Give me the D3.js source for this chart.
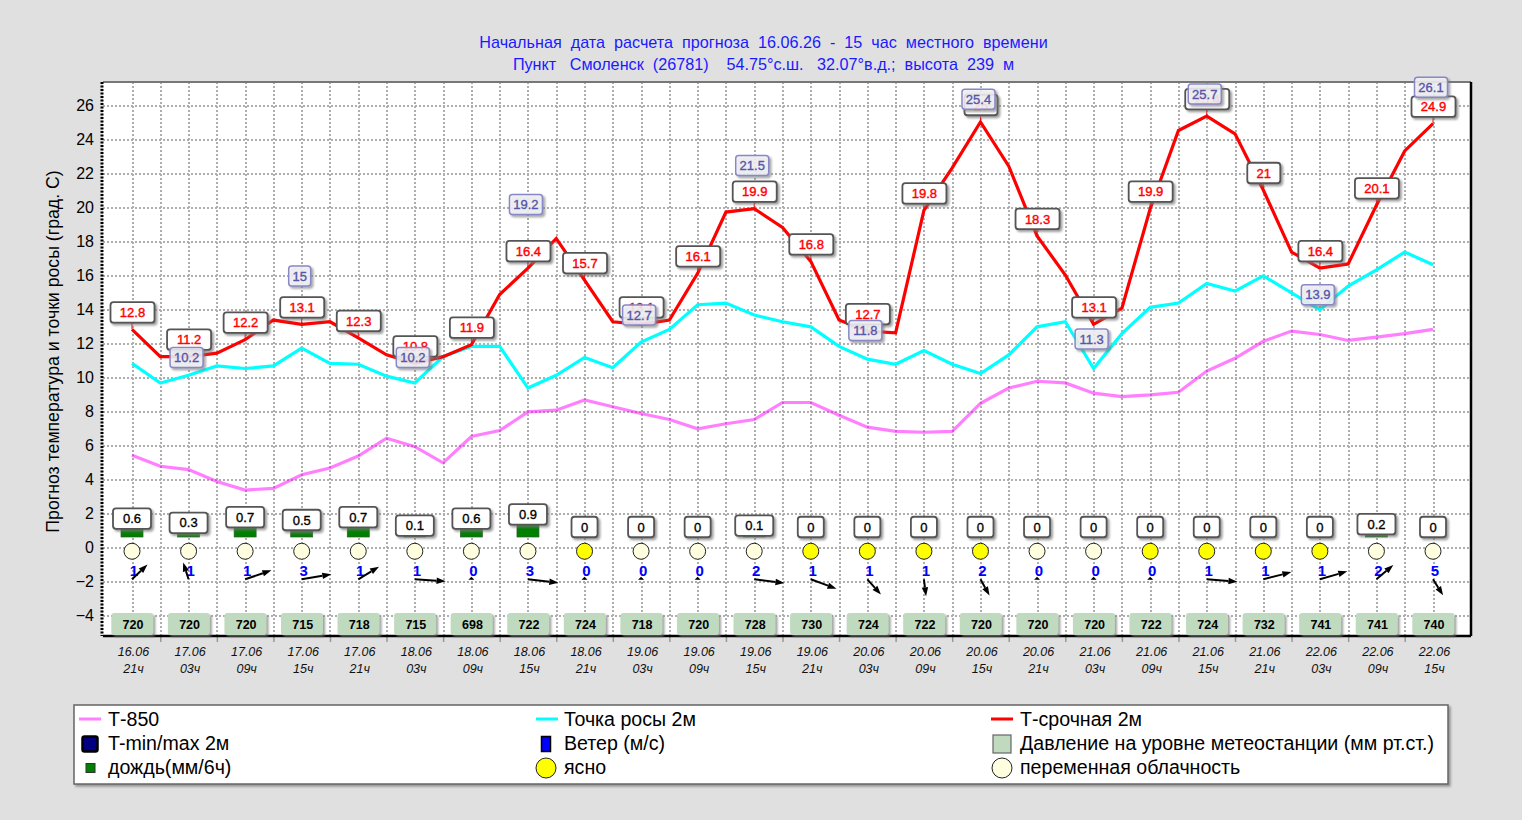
<!DOCTYPE html>
<html>
<head>
<meta charset="utf-8">
<script src="https://cdn.jsdelivr.net/npm/d3@7"></script>
<style>
  html, body { margin: 0; padding: 0; background: #e0e0e0; overflow: hidden; }
  text { font-family: "Liberation Sans", Arial, sans-serif; white-space: pre; }
</style>
</head>
<body>
<div id="root"></div>
<script>
// Forecast start and place
const titleLines = [
  'Начальная  дата  расчета  прогноза  16.06.26  -  15  час  местного  времени',
  'Пункт   Смоленск  (26781)    54.75°с.ш.   32.07°в.д.;  высота  239  м'
]
const yTitle = 'Прогноз температура и точки росы (град. С)'

// Tick labels, one per 6 hour step
const days = ['16.06', '17.06', '17.06', '17.06', '17.06', '18.06', '18.06', '18.06', '18.06', '19.06', '19.06', '19.06',
  '19.06', '20.06', '20.06', '20.06', '20.06', '21.06', '21.06', '21.06', '21.06', '22.06', '22.06', '22.06']
const hours = ['21ч', '03ч', '09ч', '15ч', '21ч', '03ч', '09ч', '15ч', '21ч', '03ч', '09ч', '15ч',
  '21ч', '03ч', '09ч', '15ч', '21ч', '03ч', '09ч', '15ч', '21ч', '03ч', '09ч', '15ч']

// Line series, one value per 3 hour step
const t850 = [5.4, 4.75, 4.55, 3.85, 3.35, 3.45, 4.25, 4.65, 5.35, 6.4, 5.9, 4.95, 6.5, 6.85, 7.95, 8.05, 8.65, 8.25, 7.85, 7.5,
  6.95, 7.25, 7.5, 8.5, 8.5, 7.75, 7.05, 6.8, 6.75, 6.8, 8.45, 9.35, 9.75, 9.65, 9.05, 8.85, 8.95, 9.1, 10.35, 11.1, 12.1,
  12.7, 12.5, 12.15, 12.35, 12.55, 12.8]
const dewPoint = [10.8, 9.65, 10.1, 10.65, 10.5, 10.65, 11.7, 10.8, 10.75, 10.05, 9.65, 11.2, 11.8, 11.8, 9.35, 10.1, 11.15, 10.55,
  12.05, 12.8, 14.25, 14.35, 13.65, 13.25, 12.95, 11.8, 11.05, 10.75, 11.55, 10.75, 10.2, 11.3, 12.95, 13.25, 10.5, 12.55,
  14.1, 14.35, 15.5, 15.05, 15.95, 14.95, 13.95, 15.35, 16.3, 17.35, 16.6]
const tempNow = [12.8, 11.2, 11.2, 11.4, 12.2, 13.35, 13.1, 13.25, 12.3, 11.3, 10.8, 11.2, 11.9, 14.85, 16.4, 18.15, 15.7, 13.25,
  13.1, 13.35, 16.1, 19.7, 19.9, 18.8, 16.8, 13.35, 12.7, 12.6, 19.8, 22.3, 25, 22.4, 18.3, 16, 13.1, 14.05, 19.9, 24.5,
  25.35, 24.3, 21, 17.35, 16.4, 16.65, 20.1, 23.3, 24.9]

// Printed values, one per 6 hour step
const tempLabels = ['12.8', '11.2', '12.2', '13.1', '12.3', '10.8', '11.9', '16.4', '15.7', '13.1', '16.1', '19.9',
  '16.8', '12.7', '19.8', '25', '18.3', '13.1', '19.9', '25.4', '21', '16.4', '20.1', '24.9']
const rain = [0.6, 0.3, 0.7, 0.5, 0.7, 0.1, 0.6, 0.9, 0, 0, 0, 0.1, 0, 0, 0, 0, 0, 0, 0, 0, 0, 0, 0.2, 0]
const clear = [0, 0, 0, 0, 0, 0, 0, 0, 1, 0, 0, 0, 1, 1, 1, 1, 0, 0, 1, 1, 1, 1, 0, 0]
const windSpeed = [1, 1, 1, 3, 1, 1, 0, 3, 0, 0, 0, 2, 1, 1, 1, 2, 0, 0, 0, 1, 1, 1, 2, 5]
// Direction the arrow points to, degrees clockwise from up. null is calm.
const windDir = [30, 350, 58, 73, 42, 97, null, 102, null, null, null, 103, 124, 154, 176, 163, null, null, null, 98, 65, 62, 33, 161]
const pressure = [720, 720, 720, 715, 718, 715, 698, 722, 724, 718, 720, 728, 730, 724, 722, 720, 720, 720, 722, 724, 732, 741, 741, 740]

// Min/max labels, every second 6 hour step starting from 17.06 03ч
const extremes = [10.2, 15, 10.2, 19.2, 12.7, 21.5, 11.8, 25.4, 11.3, 25.7, 13.9, 26.1]

// Legend rows
const legendCol1 = ['Т-850', 'T-min/max 2м', 'дождь(мм/6ч)']
const legendCol2 = ['Точка росы 2м', 'Ветер (м/с)', 'ясно']
const legendCol3 = ['Т-срочная 2м', 'Давление на уровне метеостанции (мм рт.ст.)', 'переменная облачность']

const yTicks = d3.range(-4, 27, 2)

// Dimensions
const width = 1522
const height = 820
const plot = { left: 103, right: 1471, top: 82, bottom: 636 }

const svg = d3.select('#root').append('svg')
  .attr('width', width)
  .attr('height', height)
  .style('display', 'block')

// Shadow used for all the small boxes
svg.append('defs').append('filter')
  .attr('id', 'shadow')
  .attr('x', '-20%').attr('y', '-20%').attr('width', '150%').attr('height', '150%')
  .append('feDropShadow')
  .attr('dx', 2).attr('dy', 2).attr('stdDeviation', 1)
  .attr('flood-color', '#777').attr('flood-opacity', 0.7)

// Scales: x goes over the 3 hour steps, y is degrees
const x = d3.scaleLinear().domain([0, 46]).range([132, 1433])
const y = d3.scaleLinear().domain([0, 26]).range([547, 105])
const rainY = d3.scaleLinear().domain([0, 1]).range([537, 523])
const windX = d3.scaleLinear().domain([-1, 1]).range([-31, 31])
const windY = d3.scaleLinear().domain([-1, 1]).range([17, -17])

// Title
svg.selectAll('.title')
  .data(titleLines)
  .enter().append('text')
  .attr('class', 'title')
  .attr('x', 763.5)
  .attr('y', (d, i) => 47.5 + i * 22)
  .attr('text-anchor', 'middle')
  .attr('font-size', 16.2)
  .attr('fill', '#1a1aff')
  .text(d => d)

svg.append('text')
  .attr('transform', 'translate(59,351.5) rotate(-90)')
  .attr('text-anchor', 'middle')
  .attr('font-size', 17.7)
  .attr('fill', '#000')
  .text(yTitle)

// Plot background
svg.append('rect')
  .attr('x', plot.left)
  .attr('y', plot.top)
  .attr('width', plot.right - plot.left)
  .attr('height', plot.bottom - plot.top)
  .attr('fill', '#fff')

// Grid
const gridY = svg.append('g')
  .attr('transform', `translate(${plot.left},0)`)
  .call(d3.axisLeft(y).tickValues(yTicks).tickSize(-(plot.right - plot.left)).tickFormat(''))
gridY.select('.domain').remove()

const halfSteps = d3.range(0, 47)
const gridX = svg.append('g')
  .attr('transform', `translate(0,${plot.bottom})`)
  .call(d3.axisBottom(x).tickValues(halfSteps).tickSize(-(plot.bottom - plot.top)).tickFormat(''))
gridX.select('.domain').remove()

svg.selectAll('g line')
  .attr('stroke', '#aeaeae')
  .attr('stroke-width', 2)
  .attr('stroke-dasharray', '2,2')
  .attr('shape-rendering', 'crispEdges')

// Little ticks under the axis, between the dates
const oddSteps = d3.range(1, 47, 2)
const tickX = svg.append('g')
  .attr('transform', `translate(0,${plot.bottom})`)
  .call(d3.axisBottom(x).tickValues(oddSteps).tickSize(6).tickFormat(''))
tickX.select('.domain').remove()
tickX.selectAll('line').attr('stroke', '#999').attr('stroke-width', 1.5)

// Frame
svg.append('line')
  .attr('x1', plot.left).attr('x2', plot.right).attr('y1', plot.top).attr('y2', plot.top)
  .attr('stroke', '#777').attr('stroke-width', 2)
svg.append('line')
  .attr('x1', plot.right).attr('x2', plot.right).attr('y1', plot.top).attr('y2', plot.bottom)
  .attr('stroke', '#000').attr('stroke-width', 2.5)
svg.append('line')
  .attr('x1', plot.left).attr('x2', plot.right).attr('y1', plot.bottom).attr('y2', plot.bottom)
  .attr('stroke', '#000').attr('stroke-width', 2.5)
svg.append('line')
  .attr('x1', plot.left - 1).attr('x2', plot.left - 1).attr('y1', plot.top).attr('y2', plot.bottom)
  .attr('stroke', '#000').attr('stroke-width', 3).attr('stroke-dasharray', '2,1.5')

// Y tick labels
const axisY = svg.append('g')
  .attr('transform', `translate(${plot.left - 9},0)`)
  .call(d3.axisLeft(y).tickValues(yTicks).tickSize(0).tickPadding(0))
axisY.select('.domain').remove()
axisY.selectAll('text')
  .attr('font-size', 16)
  .attr('font-family', '"Liberation Sans", Arial, sans-serif')
  .attr('fill', '#000')

// X tick labels
const xLabels = svg.append('g').selectAll('g')
  .data(days)
  .enter().append('g')
  .attr('transform', (d, i) => `translate(${x(i * 2) + 1.5},0)`)
xLabels.append('text')
  .attr('y', 656)
  .attr('text-anchor', 'middle')
  .attr('font-size', 12.5)
  .attr('font-style', 'italic')
  .attr('fill', '#111')
  .text(d => d)
xLabels.append('text')
  .attr('y', 673)
  .attr('text-anchor', 'middle')
  .attr('font-size', 12.5)
  .attr('font-style', 'italic')
  .attr('fill', '#111')
  .text((d, i) => hours[i])

// Lines
const line = d3.line()
  .x((d, i) => x(i))
  .y(d => y(d))

svg.append('path').datum(t850)
  .attr('fill', 'none').attr('stroke', '#ff00ff').attr('stroke-opacity', 0.5).attr('stroke-width', 3.2).attr('d', line)
svg.append('path').datum(dewPoint)
  .attr('fill', 'none').attr('stroke', '#00ffff').attr('stroke-width', 3.2).attr('d', line)
svg.append('path').datum(tempNow)
  .attr('fill', 'none').attr('stroke', '#ff0000').attr('stroke-width', 3.2).attr('d', line)

// Rain bars
rain.forEach((d, i) => {
  if (d === 0) return
  svg.append('rect')
    .attr('x', x(i * 2) - 11)
    .attr('y', rainY(d))
    .attr('width', 22)
    .attr('height', rainY(0) - rainY(d))
    .attr('fill', '#008000')
    .attr('stroke', '#2c5a2c')
    .attr('stroke-width', 0.7)
})

// Value label with a box, centred on cx,cy
function valueBox(parent, cx, cy, txt, w, h, opts) {
  const g = parent.append('g').attr('transform', `translate(${cx},${cy})`)
  g.append('rect')
    .attr('x', -w / 2).attr('y', -h / 2)
    .attr('width', w).attr('height', h)
    .attr('rx', 3)
    .attr('fill', opts.fill)
    .attr('fill-opacity', opts.fillOpacity === undefined ? 1 : opts.fillOpacity)
    .attr('stroke', opts.stroke)
    .attr('stroke-width', opts.strokeWidth)
    .attr('filter', 'url(#shadow)')
  g.append('text')
    .attr('x', opts.textDx || 0)
    .attr('text-anchor', 'middle')
    .attr('dy', '0.36em')
    .attr('font-size', opts.fontSize)
    .attr('font-weight', opts.fontWeight)
    .attr('fill', opts.color)
    .attr('stroke', opts.color)
    .attr('stroke-width', opts.textStroke || 0)
    .text(txt)
}

// Cloud marks
svg.append('g').selectAll('circle')
  .data(clear)
  .enter().append('circle')
  .attr('cx', (d, i) => x(i * 2))
  .attr('cy', y(-0.25))
  .attr('r', 8)
  .attr('fill', d => d ? '#ffff00' : '#ffffe0')
  .attr('stroke', '#222')
  .attr('stroke-width', 1)

// Wind speed numbers
svg.append('g').selectAll('text')
  .data(windSpeed)
  .enter().append('text')
  .attr('x', (d, i) => x(i * 2) + 2)
  .attr('y', 575.5)
  .attr('text-anchor', 'middle')
  .attr('font-size', 15)
  .attr('font-weight', 'bold')
  .attr('fill', '#0000ff')
  .text(d => d)

// Wind arrows
const windY0 = y(-1.9)
windDir.forEach((d, i) => {
  const cx = x(i * 2)
  if (d === null) {
    svg.append('path')
      .attr('d', d3.line()([[cx - 3, windY0 + 0.5], [cx, windY0 - 2.5], [cx + 3, windY0 + 0.5]]) + 'Z')
      .attr('fill', '#000')
    return
  }
  const a = d * Math.PI / 180
  const ex = cx + windX(Math.sin(a))
  const ey = windY0 + windY(Math.cos(a))
  const ang = Math.atan2(ey - windY0, ex - cx)
  const headLen = 9
  const headW = 3.2
  const bx = ex - headLen * Math.cos(ang)
  const by = ey - headLen * Math.sin(ang)
  const nx = -Math.sin(ang) * headW
  const ny = Math.cos(ang) * headW
  svg.append('line')
    .attr('x1', cx).attr('y1', windY0).attr('x2', bx).attr('y2', by)
    .attr('stroke', '#000').attr('stroke-width', 2)
  svg.append('path')
    .attr('d', d3.line()([[ex, ey], [bx + nx, by + ny], [bx - nx, by - ny]]) + 'Z')
    .attr('fill', '#000')
})

// Rain labels
rain.forEach((d, i) => {
  valueBox(svg, x(i * 2), rainY(d) - 10, String(d), d === 0 ? 26 : 38, 20.5, {
    fill: '#fff', stroke: '#555', strokeWidth: 1.8, fontSize: 13, fontWeight: 'normal', color: '#000', textStroke: 0.35
  })
})

// Pressure labels
const pressureGroup = svg.append('g')
pressure.forEach((d, i) => {
  valueBox(pressureGroup, x(i * 2) + 0.3, 624, String(d), 42, 22, {
    fill: '#c0dac0', stroke: 'none', strokeWidth: 0, fontSize: 12.5, fontWeight: 'bold', color: '#000', textDx: 0.7
  })
})

// Temperature labels with their stems
tempLabels.forEach((d, i) => {
  const cx = x(i * 2)
  const py = y(tempNow[i * 2])
  svg.append('line')
    .attr('x1', cx).attr('x2', cx).attr('y1', py).attr('y2', py - 8)
    .attr('stroke', '#ff0000').attr('stroke-width', 1)
  valueBox(svg, cx + 0.5, py - 17, d, d.length > 2 ? 44 : 33, 20.5, {
    fill: '#fff', stroke: '#555', strokeWidth: 1.8, fontSize: 13, fontWeight: 'normal', color: '#ff0000', textStroke: 0.4
  })
})

// Min/max labels, half transparent over the rest
extremes.forEach((d, i) => {
  const txt = String(d)
  valueBox(svg, x(2 + i * 4) - 2, y(d) - 16, txt, txt.length > 2 ? 33 : 22, 20, {
    fill: '#f6f6fa', fillOpacity: 0.8, stroke: '#8888c8', strokeWidth: 1.5, fontSize: 13, fontWeight: 'normal', color: '#5555aa', textStroke: 0.35
  })
})

// Legend
const legend = svg.append('g')
legend.append('rect')
  .attr('x', 74).attr('y', 705)
  .attr('width', 1374).attr('height', 79)
  .attr('fill', '#fff')
  .attr('stroke', '#666')
  .attr('stroke-width', 1.5)
  .attr('filter', 'url(#shadow)')

const legendRowY = d3.scaleLinear().domain([0, 2]).range([719, 767])
const legendCols = [
  { items: legendCol1, textX: 108 },
  { items: legendCol2, textX: 564 },
  { items: legendCol3, textX: 1020 }
]
legendCols.forEach(col => {
  legend.selectAll(null)
    .data(col.items)
    .enter().append('text')
    .attr('x', col.textX)
    .attr('y', (d, i) => legendRowY(i))
    .attr('dy', '0.38em')
    .attr('font-size', 19.6)
    .attr('fill', '#000')
    .text(d => d)
})

// Legend symbols
function legendLine(x1, row, color, opacity) {
  legend.append('line')
    .attr('x1', x1).attr('x2', x1 + 22)
    .attr('y1', legendRowY(row)).attr('y2', legendRowY(row))
    .attr('stroke', color).attr('stroke-opacity', opacity).attr('stroke-width', 3)
}
function legendRect(cx, row, w, h, fill, stroke, sw, rx) {
  legend.append('rect')
    .attr('x', cx - w / 2).attr('y', legendRowY(row) + 1 - h / 2)
    .attr('width', w).attr('height', h)
    .attr('rx', rx || 0)
    .attr('fill', fill).attr('stroke', stroke).attr('stroke-width', sw)
}
function legendDot(cx, row, fill) {
  legend.append('circle')
    .attr('cx', cx).attr('cy', legendRowY(row) + 1).attr('r', 10)
    .attr('fill', fill).attr('stroke', '#222').attr('stroke-width', 1)
}
legendLine(79, 0, '#ff00ff', 0.5)
legendLine(536, 0, '#00ffff', 1)
legendLine(991, 0, '#ff0000', 1)
legendRect(90, 1, 15, 15, '#000080', '#000', 2.5, 2)
legendRect(546, 1, 9, 15, '#0000ff', '#000', 1.5)
legendRect(1002, 1, 18, 18, '#c0dac0', '#666', 1.2)
legendRect(90.5, 2, 9, 9, '#008000', '#333', 1)
legendDot(546, 2, '#ffff00')
legendDot(1002, 2, '#ffffe0')
</script>
</body>
</html>
